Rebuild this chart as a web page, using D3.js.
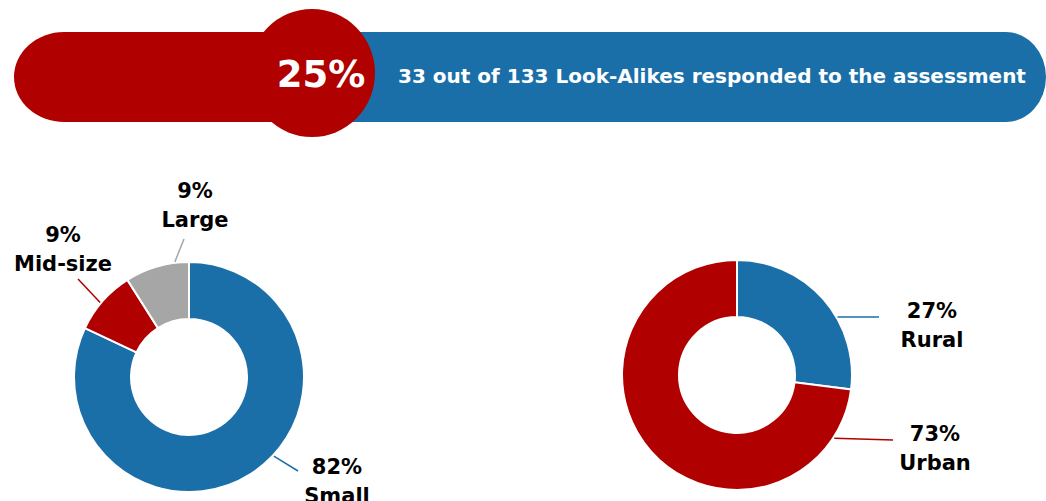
<!DOCTYPE html>
<html lang="en">
<head>
    <meta charset="UTF-8">
    <title>Look-Alike assessment response</title>
    <script src="https://d3js.org/d3.v7.min.js"></script>
    <style>
        body { margin: 0; background: #fff; }
        svg text { font-family: "DejaVu Sans", sans-serif; font-weight: bold; }
    </style>
</head>
<body>
<svg width="1046" height="501"></svg>

<script>
    // data
    const responded = 33;
    const totalLookAlikes = 133;

    const sizeCategories = ["Small", "Mid-size", "Large"];
    const sizeValues = [82, 9, 9];

    const localeCategories = ["Rural", "Urban"];
    const localeValues = [27, 73];

    // colours
    const red = "#b00000", blue = "#1b6fa8", grey = "#a6a6a6";

    let svg = d3.select("svg");

    // ---- banner
    let banner = svg.append("g").attr("class", "banner");
    banner.append("rect")
        .attr("x", 14).attr("y", 32).attr("width", 330).attr("height", 90)
        .attr("rx", 50).attr("ry", 45).attr("fill", red);
    banner.append("rect")
        .attr("x", 300).attr("y", 32).attr("width", 746).attr("height", 90)
        .attr("rx", 40).attr("ry", 45).attr("fill", blue);
    banner.append("ellipse")
        .attr("cx", 312).attr("cy", 73).attr("rx", 63).attr("ry", 64)
        .attr("fill", red);
    banner.append("text")
        .attr("x", 321).attr("y", 87)
        .attr("text-anchor", "middle")
        .attr("fill", "#fff")
        .attr("font-size", 37)
        .text(d3.format(".0%")(responded / totalLookAlikes));
    banner.append("text")
        .attr("x", 712).attr("y", 83)
        .attr("text-anchor", "middle")
        .attr("fill", "#fff")
        .attr("font-size", 20)
        .text(`${responded} out of ${totalLookAlikes} Look-Alikes responded to the assessment`);

    // ---- donuts
    const outerR = 115, innerR = 58;
    const pie = d3.pie().sort(null);
    const arc = d3.arc().innerRadius(innerR).outerRadius(outerR);

    function donut(cx, cy, cats, vals, colors, labels)
    {
        let g = svg.append("g").attr("transform", `translate(${cx},${cy})`);
        let arcs = pie(vals);

        g.selectAll("path.slice")
            .data(arcs)
            .enter()
            .append("path")
            .attr("class", "slice")
            .attr("d", arc)
            .attr("fill", (d, i) => colors[i])
            .attr("stroke", "#fff")
            .attr("stroke-width", 2);

        arcs.forEach(function (d, i) {
            let lb = labels[i];
            // leader starts on the outer edge of the ring
            let a = lb.angle * Math.PI / 180;
            let sx = Math.sin(a) * (outerR + 1), sy = -Math.cos(a) * (outerR + 1);
            g.append("line")
                .attr("x1", sx).attr("y1", sy)
                .attr("x2", lb.lx).attr("y2", lb.ly)
                .attr("stroke", colors[i])
                .attr("stroke-width", 1.5);

            let t = g.append("text")
                .attr("text-anchor", "middle")
                .attr("font-size", 21)
                .attr("fill", "#000");
            t.append("tspan").attr("x", lb.tx).attr("y", lb.ty)
                .text(d3.format(".0f")(vals[i]) + "%");
            t.append("tspan").attr("x", lb.tx).attr("dy", 29)
                .text(cats[i]);
        });
    }

    // label layout (relative to donut centre)
    donut(189, 377, sizeCategories, sizeValues, [blue, red, grey], [
        {angle: 133, lx: 109, ly: 94, tx: 148, ty: 97},
        {angle: 310, lx: -111, ly: -98, tx: -126, ty: -135},
        {angle: 353, lx: -5, ly: -138, tx: 6, ty: -179}
    ]);

    donut(737, 375, localeCategories, localeValues, [blue, red], [
        {angle: 60, lx: 142, ly: -58, tx: 195, ty: -57},
        {angle: 123, lx: 156, ly: 65, tx: 198, ty: 66}
    ]);
</script>
</body>
</html>
